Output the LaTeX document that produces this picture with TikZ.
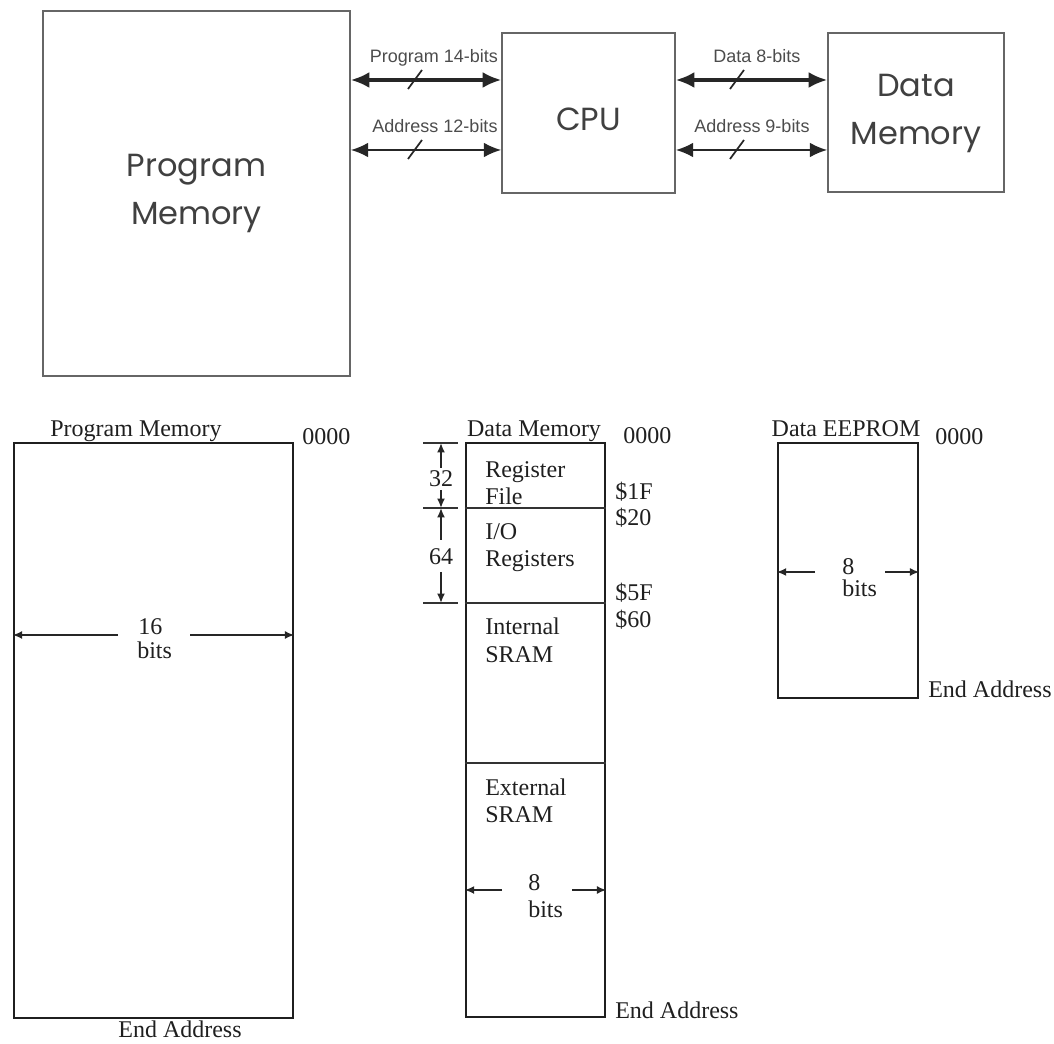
\documentclass[tikz,border=0pt]{standalone}
\usepackage{fontspec}
\setmainfont{Liberation Serif}
\newfontfamily\geofont{Poppins}
\newfontfamily\arialfont{Liberation Sans}
\usetikzlibrary{arrows.meta,fit}
\begin{document}
\begin{tikzpicture}[x=0.75pt,y=-0.75pt,
  topbox/.style={draw=black!60, line width=1.1pt, inner sep=0pt},
  membox/.style={draw=black!88, line width=1.9pt, inner sep=0pt},
  divider/.style={draw=black!80, line width=1.4pt},
  bigtxt/.style={font=\geofont\fontsize{24}{36}\selectfont, text=black!75, align=center, inner sep=0pt},
  bustxt/.style={font=\arialfont\fontsize{13.5}{16}\selectfont, text=black!70, inner sep=0pt},
  sertxt/.style={font=\fontsize{18}{21}\selectfont, text=black!88, inner sep=0pt},
  bigbus/.style={line width=2.4pt, draw=black!85, {Latex[length=14pt,width=12pt]}-{Latex[length=14pt,width=12pt]}},
  smallbus/.style={line width=1.6pt, draw=black!85, {Latex[length=13pt,width=11pt]}-{Latex[length=13pt,width=11pt]}},
  slash/.style={line width=1.3pt, draw=black!85},
  dimarrow/.style={line width=1.3pt, draw=black!85, -{Latex[length=7pt,width=6pt]}},
]
\useasboundingbox (0,0) rectangle (1054,1044);

% ---------- top block diagram ----------
\node[topbox, fit={(43,11) (350,376)}] (pm) {};
\node[bigtxt] (pmtxt) at (196.5,193) {Program\\Memory};
\node[topbox, fit={(502,33) (675,193)}] (cpu) {};
\node[bigtxt] (cputxt) at (588.5,119) {CPU};
\node[topbox, fit={(828,33) (1004,192)}] (dm) {};
\node[bigtxt] (dmtxt) at (916,113) {Data\\Memory};

\coordinate (ybusA) at (0,80);
\coordinate (ybusB) at (0,150);
\draw[bigbus] (pm.east |- ybusA) -- (cpu.west |- ybusA);
\draw[smallbus] (pm.east |- ybusB) -- (cpu.west |- ybusB);
\draw[bigbus] (cpu.east |- ybusA) -- (dm.west |- ybusA);
\draw[smallbus] (cpu.east |- ybusB) -- (dm.west |- ybusB);

\draw[slash] (408,89) -- (422,70);
\draw[slash] (408,159) -- (422,140);
\draw[slash] (730,89) -- (744,70);
\draw[slash] (730,159) -- (744,140);

\node[bustxt, anchor=base] (l1) at (434,63) {Program 14-bits};
\node[bustxt, anchor=base] (l2) at (435,133) {Address 12-bits};
\node[bustxt, anchor=base] (l3) at (757,63) {Data 8-bits};
\node[bustxt, anchor=base] (l4) at (752,133) {Address 9-bits};

% ---------- bottom: program memory ----------
\node[membox, fit={(14,443) (293,1018)}] (pmb) {};
\node[sertxt, anchor=base] (pmbt) at (136,437) {Program Memory};
\node[sertxt, anchor=base west] (pmb0) at (302,445) {0000};
\node[sertxt, anchor=base] (pmbe) at (180,1037) {End Address};
\node[sertxt, anchor=base west] (pm16) at (138,635) {16};
\node[sertxt, anchor=base west] (pmbits) at (137,659) {bits};
\draw[dimarrow] (118,635) -- (pmb.west |- 0,635);
\draw[dimarrow] (190,635) -- (pmb.east |- 0,635);

% ---------- bottom: data memory ----------
\node[membox, fit={(466,443) (605,1017)}] (dmb) {};
\draw[divider] (dmb.west |- 0,508) -- (dmb.east |- 0,508);
\draw[divider] (dmb.west |- 0,603) -- (dmb.east |- 0,603);
\draw[divider] (dmb.west |- 0,763) -- (dmb.east |- 0,763);
\node[sertxt, anchor=base] (dmbt) at (534,437) {Data Memory};
\node[sertxt, anchor=base west] (dmb0) at (623,444) {0000};
\node[sertxt, anchor=base west] (a1f) at (615,500) {\$1F};
\node[sertxt, anchor=base west] (a20) at (615,526) {\$20};
\node[sertxt, anchor=base west] (a5f) at (615,601) {\$5F};
\node[sertxt, anchor=base west] (a60) at (615,628) {\$60};
\node[sertxt, anchor=base west] (dmbe) at (615,1018) {End Address};
\node[sertxt, anchor=base west] (rf1) at (485,478) {Register};
\node[sertxt, anchor=base west] (rf2) at (485,505) {File};
\node[sertxt, anchor=base west] (io1) at (485,540) {I/O};
\node[sertxt, anchor=base west] (io2) at (485,567) {Registers};
\node[sertxt, anchor=base west] (is1) at (485,635) {Internal};
\node[sertxt, anchor=base west] (is2) at (485,663) {SRAM};
\node[sertxt, anchor=base west] (es1) at (485,795) {External};
\node[sertxt, anchor=base west] (es2) at (485,822) {SRAM};
\node[sertxt, anchor=base west] (d8) at (528,890) {8};
\node[sertxt, anchor=base west] (d8b) at (528,917) {bits};
\draw[dimarrow] (502,890) -- (dmb.west |- 0,890);
\draw[dimarrow] (572,890) -- (dmb.east |- 0,890);

% size brackets
\coordinate (t0a) at (423,443); \coordinate (t0b) at (458,443);
\coordinate (t1a) at (423,508); \coordinate (t1b) at (458,508);
\coordinate (t2a) at (423,603); \coordinate (t2b) at (458,603);
\draw[divider] (t0a) -- (t0b);
\draw[divider] (t1a) -- (t1b);
\draw[divider] (t2a) -- (t2b);
\node[sertxt, anchor=base] (n32) at (441,487) {32};
\node[sertxt, anchor=base] (n64) at (441,565) {64};
\draw[dimarrow] (n32.north |- 0,468) -- (n32.north |- t0a);
\draw[dimarrow] (n32.south |- 0,490) -- (n32.south |- t1a);
\draw[dimarrow] (n64.north |- 0,540) -- (n64.north |- t1a);
\draw[dimarrow] (n64.south |- 0,572) -- (n64.south |- t2a);

% ---------- bottom: data EEPROM ----------
\node[membox, fit={(778,443) (918,698)}] (eeb) {};
\node[sertxt, anchor=base] (eebt) at (846,437) {Data EEPROM};
\node[sertxt, anchor=base west] (eeb0) at (935,445) {0000};
\node[sertxt, anchor=base west] (eebe) at (928,698) {End Address};
\node[sertxt, anchor=base west] (e8) at (842,575) {8};
\node[sertxt, anchor=base west] (e8b) at (842,597) {bits};
\draw[dimarrow] (815,572) -- (eeb.west |- 0,572);
\draw[dimarrow] (885,572) -- (eeb.east |- 0,572);
\end{tikzpicture}
\end{document}
